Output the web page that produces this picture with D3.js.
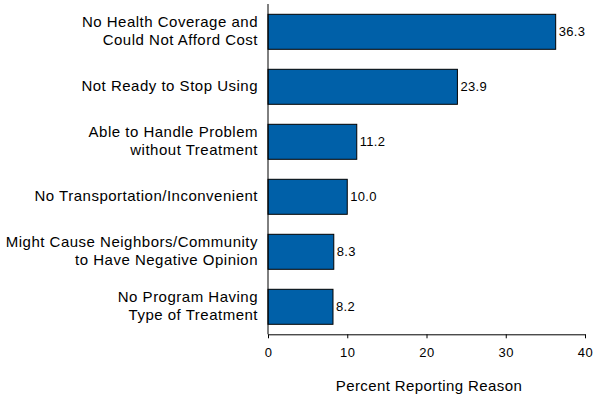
<!DOCTYPE html>
<html><head><meta charset="utf-8">
<script src="https://cdn.jsdelivr.net/npm/d3@7"></script>
<style>body{margin:0;background:#fff}svg{display:block}</style>
</head><body>
<svg id="c" width="601" height="401"></svg>
<script>
const categories = [
  ["No Health Coverage and", "Could Not Afford Cost"],
  ["Not Ready to Stop Using"],
  ["Able to Handle Problem", "without Treatment"],
  ["No Transportation/Inconvenient"],
  ["Might Cause Neighbors/Community", "to Have Negative Opinion"],
  ["No Program Having", "Type of Treatment"]
];
const values = [36.3, 23.9, 11.2, 10.0, 8.3, 8.2];
const valueLabels = ["36.3", "23.9", "11.2", "10.0", "8.3", "8.2"];
const xTicks = [0, 10, 20, 30, 40];
const xTitle = "Percent Reporting Reason";

const svg = d3.select("#c");
const font = "Arial, 'Liberation Sans', sans-serif";
const x = d3.scaleLinear().domain([0, 40]).range([268, 585]);
const y = d3.scaleBand().domain(d3.range(categories.length)).range([4.3, 334.3])
  .paddingInner(20/55).paddingOuter(10/55);

svg.append("g").selectAll("rect").data(values).join("rect")
  .attr("x", x(0)).attr("y", (d,i)=>y(i))
  .attr("width", d=>x(d)-x(0)).attr("height", y.bandwidth())
  .attr("fill", "#0060A8").attr("stroke", "#000").attr("stroke-width", 1);

svg.append("g").selectAll("text").data(values).join("text")
  .attr("x", d=>x(d)+3).attr("y", (d,i)=>y(i)+y.bandwidth()/2)
  .attr("dy", "0.35em").attr("font-family", font).attr("font-size", 13)
  .attr("letter-spacing", 0.3)
  .text((d,i)=>valueLabels[i]);

const xAxis = d3.axisBottom(x).tickValues(xTicks).tickSize(4).tickSizeOuter(0).tickPadding(9);
const gx = svg.append("g").attr("transform", "translate(0,334.3)").call(xAxis);
gx.select(".domain").attr("stroke", "#000");
gx.selectAll("line").attr("stroke", "#000");
gx.selectAll("text").attr("font-family", font).attr("font-size", 13)
  .attr("letter-spacing", 0.5).attr("fill", "#000");

svg.append("line").attr("x1", x(0)).attr("x2", x(0)).attr("y1", 4).attr("y2", 334.3)
  .attr("stroke", "#000");

const lab = svg.append("g").selectAll("text").data(categories).join("text")
  .attr("text-anchor", "end").attr("font-family", font).attr("font-size", 15)
  .attr("letter-spacing", 0.5)
  .attr("y", (d,i)=>y(i)+y.bandwidth()/2);
lab.each(function(d){
  const t = d3.select(this);
  const n = d.length;
  d.forEach((line, k)=>{
    t.append("tspan").attr("x", 258)
      .attr("dy", k===0 ? (0.31 - (n-1)*0.64) + "em" : "1.22em").text(line);
  });
});

svg.append("text").attr("x", 429).attr("y", 386).attr("dy", "0.35em")
  .attr("text-anchor", "middle").attr("font-family", font).attr("font-size", 15)
  .attr("letter-spacing", 0.4)
  .text(xTitle);
</script>
</body></html>
